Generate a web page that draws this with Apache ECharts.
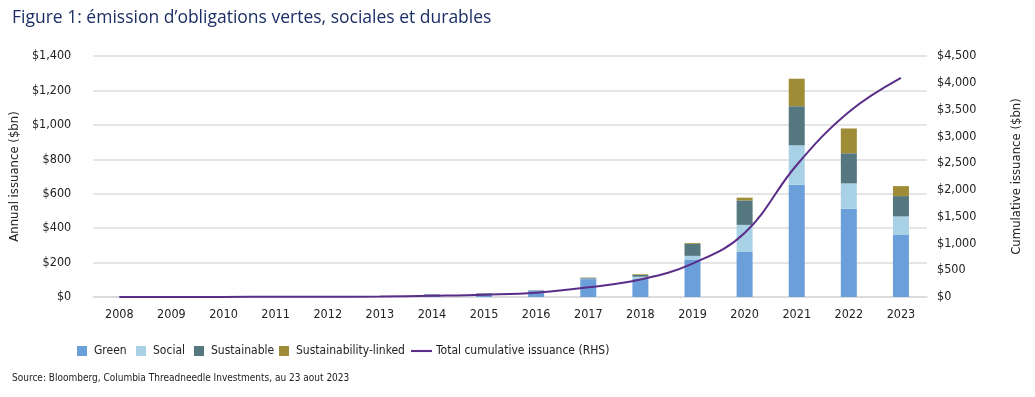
<!DOCTYPE html>
<html>
<head>
<meta charset="utf-8">
<script src="https://cdn.jsdelivr.net/npm/echarts@6/dist/echarts.min.js"></script>
<style>
  html, body { margin: 0; padding: 0; background: #fff; }
  #container { width: 1035px; height: 397px; }
</style>
</head>
<body>
<div id="container"></div>
<script>
  const years = ['2008', '2009', '2010', '2011', '2012', '2013', '2014', '2015', '2016', '2017', '2018', '2019', '2020', '2021', '2022', '2023']
  const green = [0.5, 0.5, 0.5, 0.5, 1, 2, 13, 14, 35, 104, 105, 215, 262, 652, 513, 363]
  const social = [0, 0, 0, 0, 0, 0, 1, 1, 1, 3, 13, 24, 157, 229, 147, 105]
  const sustainable = [0, 0, 0, 0, 0, 0, 3, 6, 3, 4, 10, 70, 142, 227, 175, 118]
  const linked = [0, 0, 0, 0, 0, 0, 0, 0, 0, 2, 4, 5, 16, 160, 144, 58]
  const cumulative = [0, 1, 2, 3, 5, 9, 24, 44, 80, 180, 325, 624, 1195, 2465, 3455, 4092]
  const leftTicks = [0, 200, 400, 600, 800, 1000, 1200, 1400]
  const rightTicks = [0, 500, 1000, 1500, 2000, 2500, 3000, 3500, 4000, 4500]
  const seriesNames = ['Green', 'Social', 'Sustainable', 'Sustainability-linked', 'Total cumulative issuance (RHS)']

  const font = '"DejaVu Sans Condensed", "Liberation Sans", sans-serif'
  const colors = ['#6a9fd9', '#a9d1e5', '#547780', '#9e8c36', '#5a2d88']
  const money = v => '$' + Number(v).toLocaleString('en-US')

  const myChart = echarts.init(document.getElementById('container'), null, { renderer: 'canvas' })
  const barSeries = (name, data, color) => ({
    name: name,
    type: 'bar',
    stack: 'annual',
    barWidth: 16,
    itemStyle: { color: color },
    data: data
  })
  // one legend per item so each sits where the reference puts it
  const legendLeft = [72, 131, 189, 274, 406]
  const legends = seriesNames.map((name, i) => ({
    top: 340,
    left: legendLeft[i],
    itemWidth: i === 4 ? 21 : 10,
    itemHeight: 10,
    itemGap: 0,
    textStyle: { fontFamily: font, fontSize: 12, color: '#222', padding: [0, 0, 0, i === 4 ? -1 : 2] },
    data: [i === 4
      ? { name: name, icon: 'path://M0,4h20v2h-20z', itemStyle: { color: colors[4] } }
      : { name: name, icon: 'rect' }]
  }))

  myChart.setOption({
    animation: false,
    color: colors,
    title: {
      text: 'Figure 1: émission d’obligations vertes, sociales et durables',
      left: 7,
      top: 4,
      textStyle: { fontFamily: '"Open Sans", sans-serif', fontSize: 17.5, fontWeight: 'normal', color: '#1b2f66' }
    },
    graphic: [{
      type: 'text',
      left: 12,
      top: 373,
      style: {
        text: 'Source: Bloomberg, Columbia Threadneedle Investments, au 23 aout 2023',
        fontFamily: font,
        fontSize: 10,
        fill: '#222'
      }
    }],
    legend: legends,
    grid: { left: 90, right: 108, top: 56, bottom: 100 },
    xAxis: {
      type: 'category',
      data: years,
      axisTick: { show: false },
      axisLine: { lineStyle: { color: '#d9d9d9', width: 1.5 } },
      axisLabel: { fontFamily: font, fontSize: 12.5, color: '#222', margin: 11 }
    },
    yAxis: [{
      type: 'value',
      min: leftTicks[0],
      max: leftTicks[leftTicks.length - 1],
      interval: leftTicks[1] - leftTicks[0],
      name: 'Annual issuance ($bn)',
      nameLocation: 'middle',
      nameGap: 63,
      nameTextStyle: { fontFamily: font, fontSize: 13, color: '#222' },
      axisLabel: { fontFamily: font, fontSize: 12.5, color: '#222', margin: 22, formatter: money },
      splitLine: { lineStyle: { color: '#dcdcdc', width: 1.5 } }
    }, {
      type: 'value',
      min: rightTicks[0],
      max: rightTicks[rightTicks.length - 1],
      interval: rightTicks[1] - rightTicks[0],
      name: 'Cumulative issuance ($bn)',
      nameLocation: 'middle',
      nameGap: 83,
      nameRotate: 90,
      nameTextStyle: { fontFamily: font, fontSize: 13, color: '#222' },
      axisLabel: { fontFamily: font, fontSize: 12.5, color: '#222', margin: 10, formatter: money },
      splitLine: { show: false }
    }],
    series: [
      barSeries(seriesNames[0], green, colors[0]),
      barSeries(seriesNames[1], social, colors[1]),
      barSeries(seriesNames[2], sustainable, colors[2]),
      barSeries(seriesNames[3], linked, colors[3]),
      {
        name: seriesNames[4],
        type: 'line',
        yAxisIndex: 1,
        smooth: 0.4,
        symbol: 'none',
        lineStyle: { color: colors[4], width: 2 },
        itemStyle: { color: colors[4] },
        data: cumulative
      }
    ]
  })
</script>
</body>
</html>
